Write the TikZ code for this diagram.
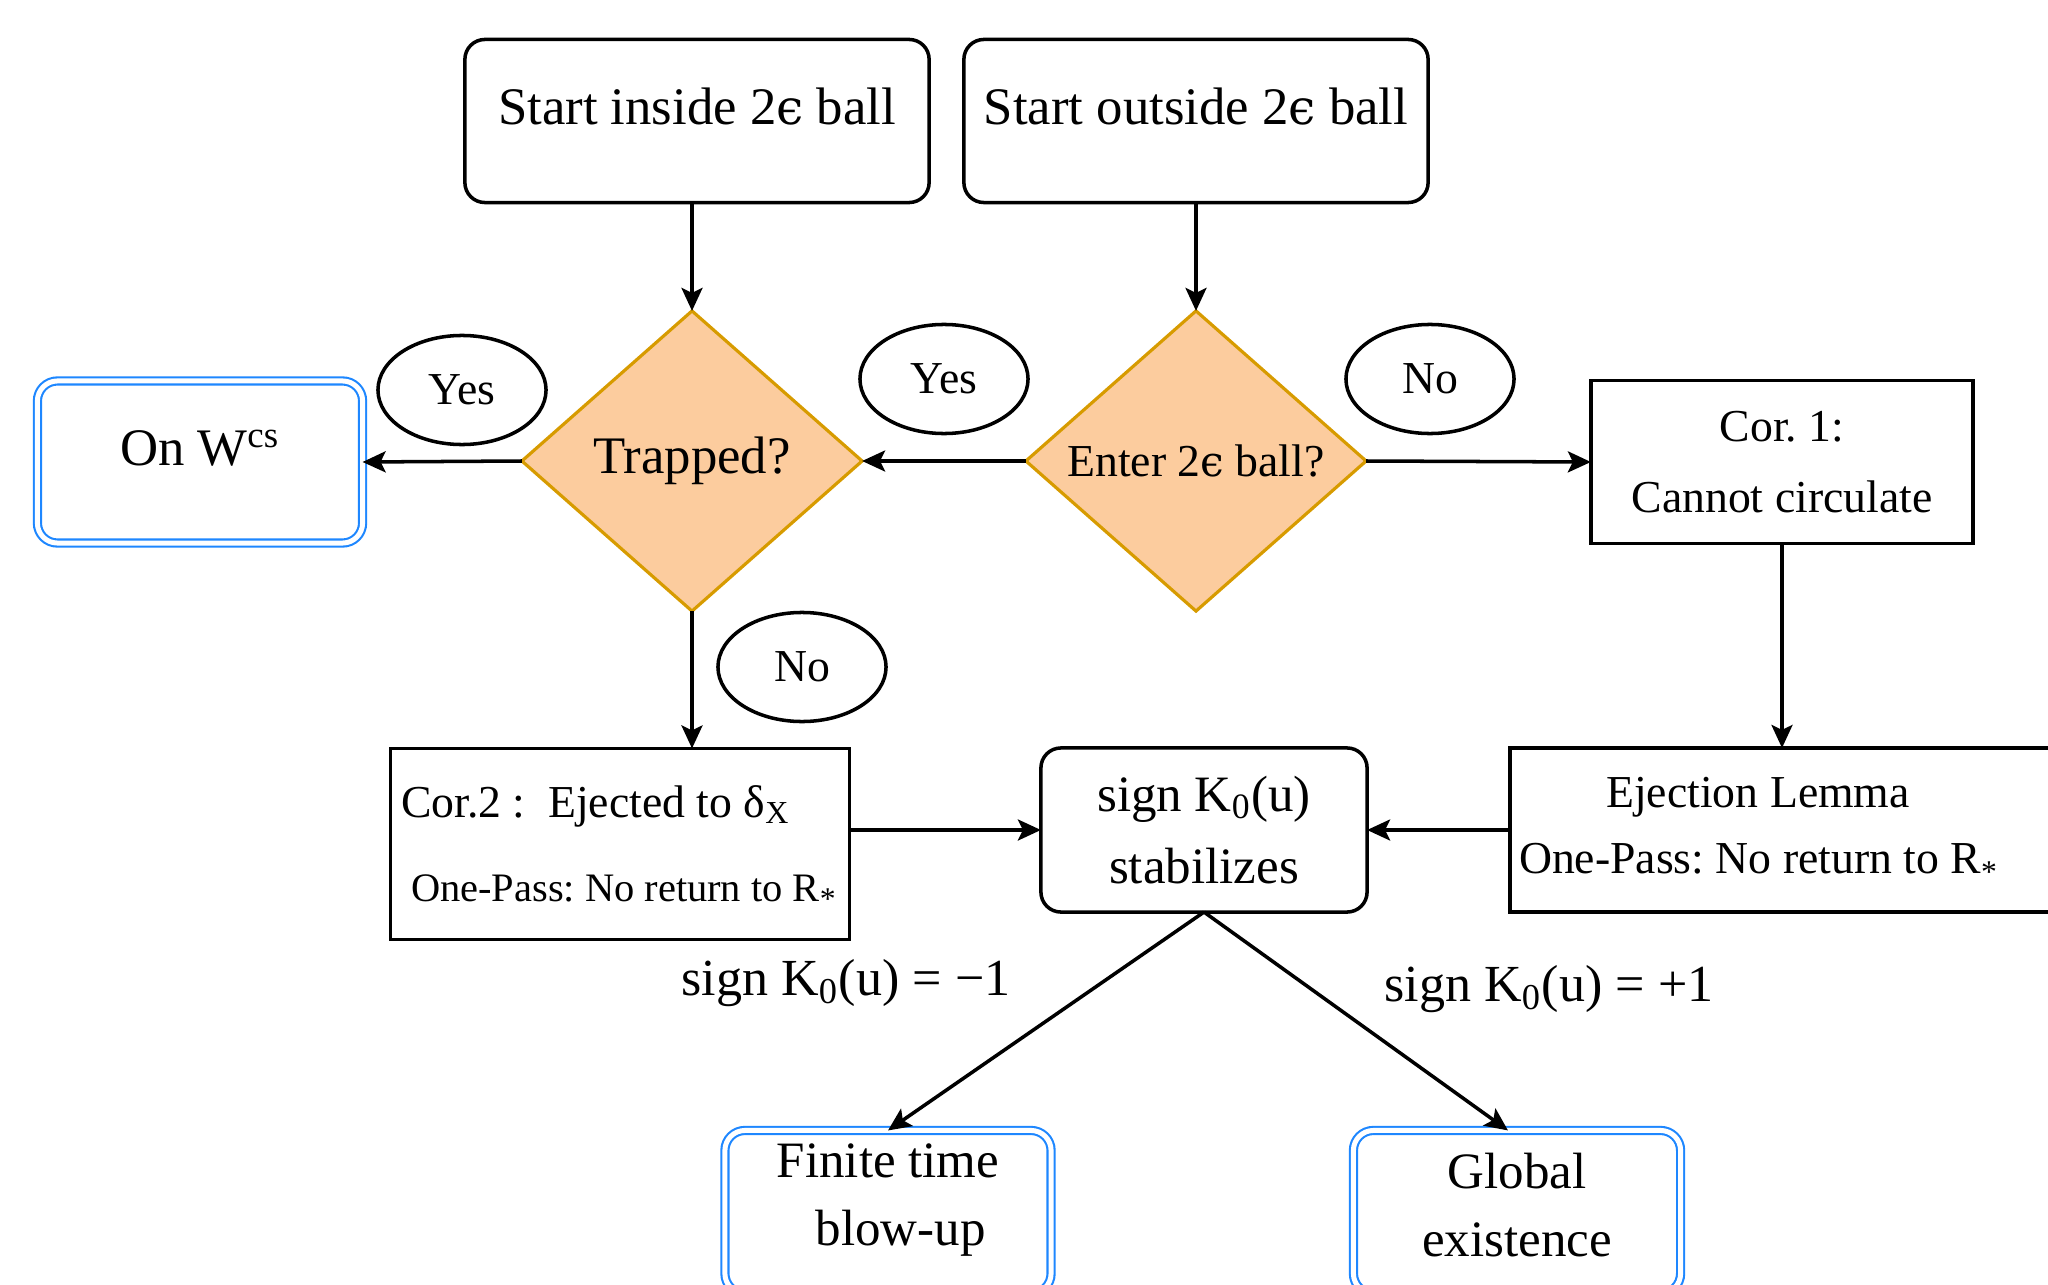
\documentclass[tikz,border=0pt]{standalone}
\usepackage{fontspec}
\setmainfont{Liberation Serif}
\newfontfamily\dvserif{DejaVu Serif}
\usetikzlibrary{shapes.geometric,arrows.meta}
\definecolor{dfill}{RGB}{252,204,158}
\definecolor{dline}{RGB}{215,155,0}
\definecolor{bluel}{RGB}{30,135,255}
\newcommand\fsz[2]{\fontsize{#1}{#2}\selectfont}
\newcommand\lsub[1]{\textsubscript{#1}}
\newcommand\eps{{\dvserif\scalebox{0.92}{ϵ}}}
\newcommand\rstar{R\raisebox{-0.45ex}{\fsz{9}{10}*}}
\frenchspacing
\begin{document}
\begin{tikzpicture}[x=0.01cm,y=-0.01cm,
  every node/.style={inner sep=0pt, outer sep=0pt},
  ln/.style={line width=1pt},
  arr/.style={ln, -{Stealth[length=0.23cm,width=0.21cm,inset=0.05cm]}},
  rbox/.style={draw, ln, rectangle, rounded corners=0.2cm},
  sbox/.style={draw, ln, rectangle},
  dbox/.style={rectangle, draw=bluel, line width=0.6pt, double=white, double distance=0.05cm, rounded corners=0.2cm},
  dia/.style={diamond, draw=dline, fill=dfill, line width=0.9pt, minimum width=3.4cm, minimum height=3.0cm},
  oval/.style={ellipse, draw, ln, minimum width=1.68cm, minimum height=1.09cm, font=\fsz{13}{16}},
  ]
\useasboundingbox (0,0) rectangle (2048,1285);
\clip (0,0) rectangle (2048,1285);

% top boxes
\node[rbox, minimum width=4.64cm, minimum height=1.63cm, text depth=0.3cm, font=\fsz{15}{18}] (si) at (697,121) {Start inside 2\eps{} ball};
\node[rbox, minimum width=4.64cm, minimum height=1.63cm, text depth=0.3cm, font=\fsz{15}{18}] (so) at (1196,121) {Start outside 2\eps{} ball};

% diamonds
\node[dia, font=\fsz{15}{18}] (trap) at (692,461) {Trapped?};
\node[dia, font=\fsz{13}{16}] (enter) at (1196,461) {Enter 2\eps{} ball?};

% side boxes
\node[dbox, minimum width=3.25cm, minimum height=1.62cm, text depth=0.28cm, font=\fsz{15}{18}] (onw) at (200,462) {On W\textsuperscript{cs}};
\node[sbox, minimum width=3.82cm, minimum height=1.63cm, align=center, font=\fsz{13}{20}] (cor1) at (1782,462) {Cor. 1:\\Cannot circulate};

% middle row
\node[sbox, minimum width=4.59cm, minimum height=1.91cm] (cor2) at (620,844) {};
\node[anchor=west, font=\fsz{13}{16}] (cor2a) at (401,806) {Cor.2 :\enspace Ejected to δ\lsub{X}};
\node[anchor=west, font=\fsz{11.5}{14}] (cor2b) at (411,892) {One-Pass: No return to \rstar};
\node[rbox, minimum width=3.26cm, minimum height=1.64cm, align=center, font=\fsz{14.5}{20.5}] (sign) at (1204,830) {sign K\lsub{0}(u)\\stabilizes};
\node[sbox, minimum width=6.0cm, minimum height=1.64cm] (ej) at (1810,830) {};
\node[align=center, font=\fsz{13}{18.8}] (ejt) at (1758,830) {Ejection Lemma\\One-Pass: No return to \rstar};

% bottom boxes
\node[dbox, minimum width=3.26cm, minimum height=1.63cm] (fin) at (888,1212) {};
\node[align=center, font=\fsz{14.5}{19.4}] (fint) at (888,1200) {Finite time\\\ \ blow-up};
\node[dbox, minimum width=3.27cm, minimum height=1.63cm] (glob) at (1517,1212) {};
\node[align=center, font=\fsz{14.5}{19.4}] (globt) at (1517,1205) {Global\\existence};

% ovals
\node[oval] (y1) at (462,390) {Yes};
\node[oval] (y2) at (944,379) {Yes};
\node[oval] (n1) at (1430,379) {No};
\node[oval] (n2) at (802,667) {No};

% branch labels
\node[font=\fsz{14.8}{18}] (lm) at (846,983) {sign K\lsub{0}(u) = −1};
\node[font=\fsz{14.8}{18}] (lp) at (1549,989) {sign K\lsub{0}(u) = +1};

% connectors
\draw[arr] (si.south -| trap.north) -- (trap.north);
\draw[arr] (so.south) -- (enter.north);
\draw[arr] (enter.west) -- (trap.east);
\draw[arr] (trap.west) -- (onw.east);
\draw[arr] (enter.east) -- (cor1.west);
\draw[arr] (trap.south) -- (trap.south |- cor2.north);
\draw[arr] (cor1.south) -- (cor1.south |- ej.north);
\draw[arr] (cor2.east |- sign.west) -- (sign.west);
\draw[arr] (ej.west) -- (sign.east);
\draw[arr] (sign.south) -- (fin.north);
\draw[arr] (sign.south) -- ([xshift=-0.09cm]glob.north);
\end{tikzpicture}
\end{document}
